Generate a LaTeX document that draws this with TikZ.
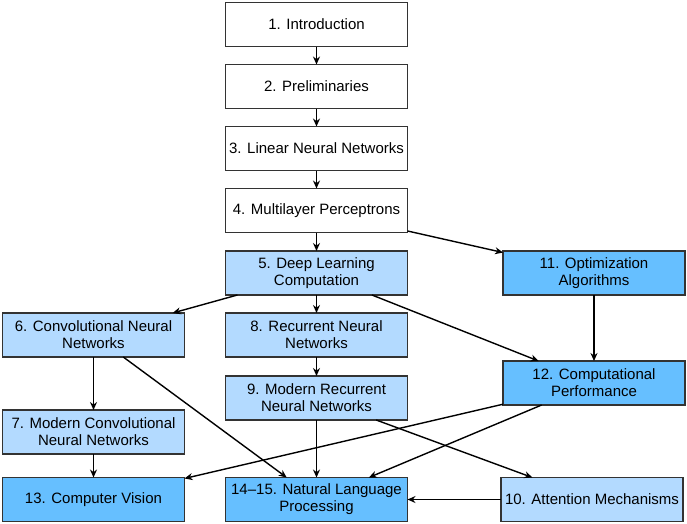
\documentclass[tikz,border=0pt]{standalone}
\usepackage{xcolor}
\usepackage{fontspec}
\setmainfont{Liberation Sans}
\usepackage{tikz}
\usetikzlibrary{positioning, arrows.meta}

\definecolor{paleblue}{HTML}{B3DAFF}
\definecolor{deepblue}{HTML}{66BFFF}

\tikzset{
	chapter/.style={draw=black!80, line width=1.2pt, minimum width=182pt, minimum height=44pt,
		inner sep=2pt, outer sep=0pt, align=center, font=\fontsize{15}{17}\selectfont},
	pale/.style={chapter, fill=paleblue},
	deep/.style={chapter, fill=deepblue},
	>={Stealth[length=8pt, width=7pt]}
}

\begin{document}
\begin{tikzpicture}[every edge/.style={draw, line width=1.4pt}]
			\useasboundingbox (0pt,0pt) rectangle (687pt,-523pt);
			\node[chapter] (intro) at (316.5pt,-24.5pt) {1. Introduction};
			\node[chapter, below = 18pt of intro] (prelim) {2. Preliminaries};
			\node[chapter, below = 18pt of prelim] (linear) {3. Linear Neural Networks};
			\node[chapter, below = 18pt of linear] (mlp) {4. Multilayer Perceptrons};
			\node[pale, below = 18.5pt of mlp] (dlc) {5. Deep Learning\\Computation};
			\node[pale, below = 18pt of dlc] (rnn) {8. Recurrent Neural\\Networks};
			\node[pale, below = 19pt of rnn] (mrnn) {9. Modern Recurrent\\Neural Networks};
			\node[deep, below = 57.5pt of mrnn] (nlp) {14–15. Natural Language\\Processing};
			\node[pale, left = 41pt of rnn] (cnn) {6. Convolutional Neural\\Networks};
			\node[pale, below = 53pt of cnn] (mcnn) {7. Modern Convolutional\\Neural Networks};
			\node[deep, left = 41pt of nlp] (cv) {13. Computer Vision};
			\node[pale, right = 93.5pt of nlp] (attn) {10. Attention Mechanisms};
			\node[deep, right = 95.5pt of dlc] (optim) {11. Optimization\\Algorithms};
			\node[deep, below = 66pt of optim] (perf) {12. Computational\\Performance};

			% main column
			\draw (intro) edge[->] (prelim);
			\draw (prelim) edge[->] (linear);
			\draw (linear) edge[->] (mlp);
			\draw (mlp) edge[->] (dlc);
			\draw (mlp) edge[->] (optim);
			\draw (dlc) edge[->] (cnn);
			\draw (dlc) edge[->] (rnn);
			\draw (dlc) edge[->] (perf);
			\draw (optim) edge[->] (perf);
			\draw (cnn) edge[->] (mcnn);
			\draw (cnn) edge[->] (nlp);
			\draw (rnn) edge[->] (mrnn);
			\draw (mrnn) edge[->] (nlp);
			\draw (mrnn) edge[->] (attn);
			\draw (mcnn) edge[->] (cv);
			\draw (perf) edge[->] (cv);
			\draw (perf) edge[->] (nlp);
			\draw (attn) edge[->] (nlp);
		\end{tikzpicture}
\end{document}
